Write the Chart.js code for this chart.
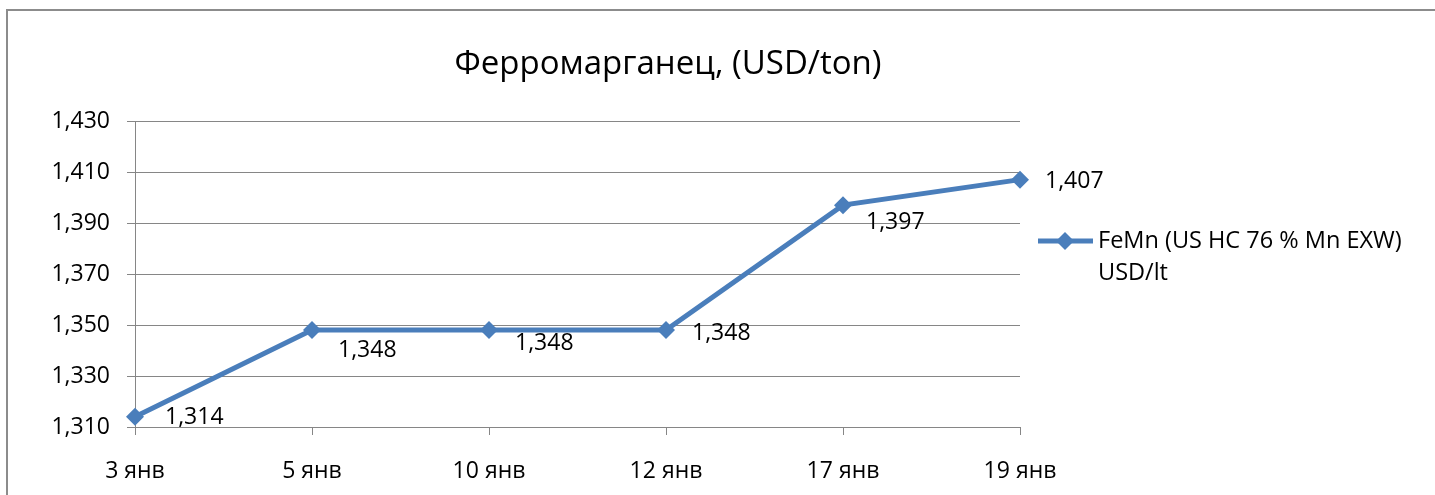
<!DOCTYPE html>
<html lang="ru">
<head>
    <meta charset="UTF-8">
    <title>Ферромарганец</title>
    <script src="https://cdn.jsdelivr.net/npm/chart.js@4.4.0/dist/chart.umd.min.js"></script>
    <style>
        html, body { margin: 0; padding: 0; background: #fff; }
        #wrap { width: 1435px; height: 495px; }
    </style>
</head>
<body>
    <div id="wrap">
        <canvas id="myChart" width="1435" height="495"></canvas>
    </div>
    <script>
        // данные графика
        var categories = ['3 янв', '5 янв', '10 янв', '12 янв', '17 янв', '19 янв'];
        var prices = [1314, 1348, 1348, 1348, 1397, 1407];
        var yTicks = [1310, 1330, 1350, 1370, 1390, 1410, 1430];
        var chartTitle = 'Ферромарганец, (USD/ton)';
        var seriesName = ['FeMn (US HC 76 % Mn EXW)', 'USD/lt'];

        var blue = '#4A7EBB';
        var gray = '#868686';
        var font = "'Open Sans', sans-serif";

        function fmt(v) {
            return v.toLocaleString('en-US');
        }

        // рамка, заголовок, подписи и легенда
        var decor = {
            id: 'decor',
            beforeDraw: function (chart) {
                var c = chart.ctx;
                c.save();
                c.fillStyle = '#fff';
                c.fillRect(0, 0, chart.width, chart.height);
                c.strokeStyle = '#8c8c8c';
                c.lineWidth = 2;
                c.beginPath();
                c.moveTo(7, chart.height);
                c.lineTo(7, 10);
                c.lineTo(chart.width, 10);
                c.stroke();
                c.fillStyle = '#000';
                c.font = '33px ' + font;
                c.textAlign = 'center';
                c.textBaseline = 'middle';
                c.fillText(chartTitle, 668, 65);
                c.restore();
            },
            afterDatasetsDraw: function (chart, args, opts) {
                var c = chart.ctx;
                var meta = chart.getDatasetMeta(0);
                c.save();
                c.fillStyle = '#000';
                c.font = '23px ' + font;
                c.textAlign = 'left';
                c.textBaseline = 'middle';
                meta.data.forEach(function (pt, i) {
                    var s = opts.shift[i];
                    c.fillText(fmt(prices[i]), pt.x + s[0], pt.y + s[1]);
                });

                // легенда
                var lx = 1038, ly = 241;
                c.strokeStyle = blue;
                c.lineWidth = 5;
                c.beginPath();
                c.moveTo(lx, ly);
                c.lineTo(lx + 55, ly);
                c.stroke();
                c.fillStyle = blue;
                c.beginPath();
                c.moveTo(lx + 27, ly - 9);
                c.lineTo(lx + 36, ly);
                c.lineTo(lx + 27, ly + 9);
                c.lineTo(lx + 18, ly);
                c.closePath();
                c.fill();
                c.fillStyle = '#000';
                c.font = '23.5px ' + font;
                c.fillText(seriesName[0], lx + 60, ly);
                c.fillText(seriesName[1], lx + 60, ly + 32);
                c.restore();
            }
        };

        var ctx = document.getElementById('myChart').getContext('2d');
        var myChart = new Chart(ctx, {
            type: 'line',
            data: {
                labels: categories,
                datasets: [{
                    label: seriesName.join(' '),
                    data: prices,
                    borderColor: blue,
                    backgroundColor: blue,
                    borderWidth: 5,
                    tension: 0,
                    pointStyle: 'rectRot',
                    pointRadius: 9,
                    pointBorderWidth: 0,
                    clip: false
                }]
            },
            options: {
                responsive: false,
                animation: false,
                layout: { padding: { top: 121, right: 415, left: 0, bottom: 0 } },
                plugins: {
                    legend: { display: false },
                    tooltip: { enabled: false },
                    title: { display: false },
                    decor: {
                        shift: [[30, 1], [26, 20], [26, 13], [26, 3], [23, 17], [25, 2]]
                    }
                },
                scales: {
                    x: {
                        offset: false,
                        afterFit: function (s) { s.height = 68; },
                        grid: { drawOnChartArea: false, drawTicks: true, tickLength: 8, color: gray },
                        border: { display: true, color: gray },
                        ticks: { color: '#000', padding: 23, font: { family: font, size: 23 }, maxRotation: 0 }
                    },
                    y: {
                        min: 1310,
                        max: 1430,
                        afterFit: function (s) { s.width = 135; },
                        afterBuildTicks: function (s) {
                            s.ticks = yTicks.map(function (v) { return { value: v }; });
                        },
                        grid: { color: gray, tickLength: 8, lineWidth: 1 },
                        border: { display: true, color: gray },
                        ticks: {
                            color: '#000',
                            padding: 17,
                            font: { family: font, size: 23 },
                            callback: function (v) { return fmt(v); }
                        }
                    }
                }
            },
            plugins: [decor]
        });
    </script>
</body>
</html>
